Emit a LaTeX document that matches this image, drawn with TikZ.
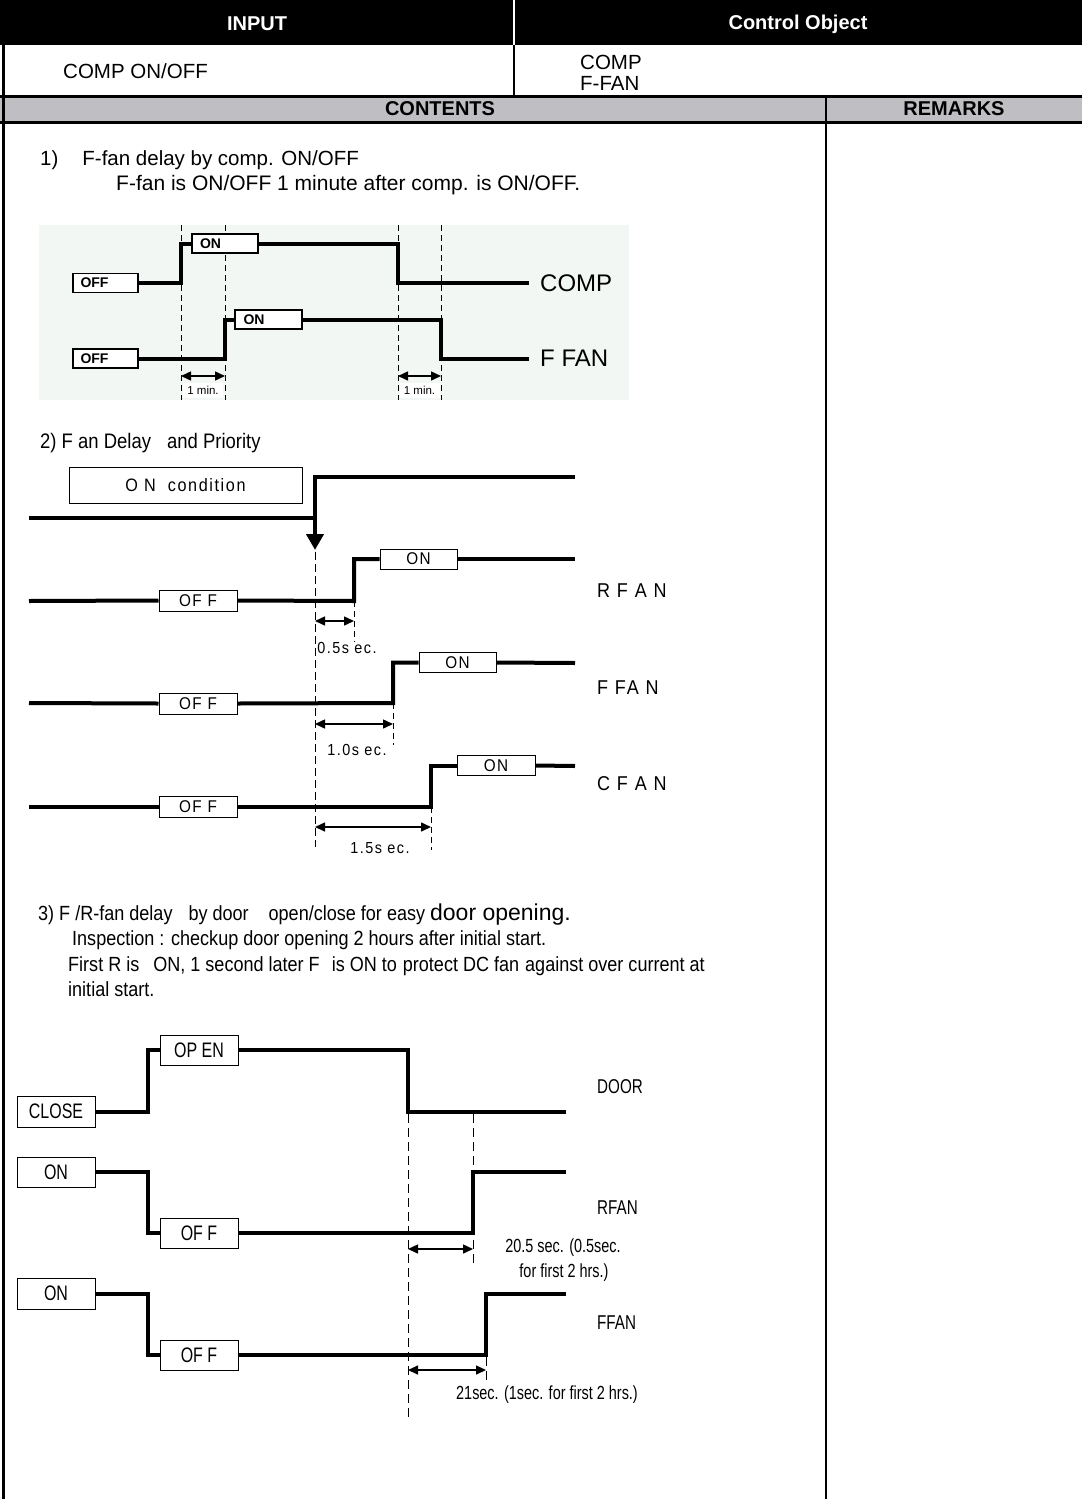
\documentclass[tikz,border=0pt]{standalone}
\usepackage{fontspec}
\setmainfont{Liberation Sans}
\newfontfamily\narrowfont{Liberation Sans}[FakeStretch=0.88]
\newfontfamily\tightfont{Liberation Sans}[FakeStretch=0.76]
\newfontfamily\spacedfont{Liberation Sans}[FakeStretch=0.9,LetterSpace=9]
\usetikzlibrary{arrows.meta,positioning}
\newcommand{\fsz}[1]{\fontsize{#1}{#1}\selectfont}
\definecolor{hdrgray}{RGB}{191,191,195}
\definecolor{panelbg}{RGB}{243,247,243}

\begin{document}
\begin{tikzpicture}[x=1pt,y=-1pt,>=Stealth,
  txt/.style={inner sep=0pt},
  wave/.style={line width=4pt},
  guide/.style={line width=0.9pt,dash pattern=on 6pt off 4pt},
  dim/.style={<->,line width=1.5pt,>={Triangle[length=10pt,width=9pt]}},
  oldbox/.style={draw,line width=1.2pt,fill=white,inner sep=0pt,minimum width=65pt,minimum height=19pt,font=\bfseries\fsz{14},text width=50pt,align=left},
  lvlbox/.style={draw,line width=1pt,fill=white,inner sep=0pt,minimum width=78pt,minimum height=21pt,font=\spacedfont\fsz{17}},
  doorbox/.style={draw,line width=1pt,fill=white,inner sep=0pt,minimum width=78pt,minimum height=30pt,font=\tightfont\fsz{21}}]
  \useasboundingbox (0,0) rectangle (1082,1499);

  % table frame
  \fill[black] (0,0) rectangle (1082,45);
  \fill[hdrgray] (0,96) rectangle (1082,122);
  \draw[white,line width=2pt] (514,0) -- (514,45);
  \draw[line width=2pt] (514,45) -- (514,96);
  \draw[line width=3pt] (0,96) -- (1082,96);
  \draw[line width=3pt] (0,122.5) -- (1082,122.5);
  \draw[line width=2.5pt] (826,96) -- (826,1499);
  \draw[line width=3pt] (3.5,45) -- (3.5,1499);

  \node (hin) [txt,white,font=\bfseries\fsz{20}] at (257,24) {INPUT};
  \node (hobj) [txt,white,font=\bfseries\fsz{20}] at (798,24) {Control Object};
  \node (inval) [txt,anchor=west,font=\fsz{20.5}] at (63,71) {COMP ON/OFF};
  \node (obj1) [txt,anchor=west,font=\fsz{20.5}] at (580,62) {COMP};
  \node (obj2) [txt,anchor=west,font=\fsz{20.5}] at (580,83) {F-FAN};
  \node (hcont) [txt,font=\bfseries\fsz{20}] at (440,109) {CONTENTS};
  \node (hrem) [txt,font=\bfseries\fsz{20}] at (954,109) {REMARKS};

  % 1) F-fan delay by comp
  \node (s1a) [txt,anchor=west,font=\fsz{20.5}] at (40,160) {1)\hspace{24pt}F-fan delay by comp. ON/OFF};
  \node (s1b) [txt,anchor=west,font=\fsz{21}] at (116,185) {F-fan is ON/OFF 1 minute after comp. is ON/OFF.};

  \fill[panelbg] (39,225) rectangle (629,400);
  \node (m1) [txt,fill=white,minimum width=40pt,minimum height=15pt,font=\fsz{11.5}] at (203,390) {1 min.};
  \node (m2) [txt,fill=white,minimum width=40pt,minimum height=15pt,font=\fsz{11.5}] at (419.5,390) {1 min.};
  \draw[guide] (181,225) -- (181,400);
  \draw[guide] (225,225) -- (225,400);
  \draw[guide] (398,225) -- (398,400);
  \draw[guide] (441,225) -- (441,400);
  \draw[dim] (181,376) -- (225,376);
  \draw[dim] (398,376) -- (441,376);

  \node (c1off) [oldbox] at (105.5,283) {OFF};
  \node (c1on) [oldbox,minimum width=66pt] at (225,243.5) {ON};
  \node (f1off) [oldbox] at (105.5,358.5) {OFF};
  \node (f1on) [oldbox,minimum width=67pt] at (268.5,319.5) {ON};
  \node (comp1) [anchor=west,inner sep=11pt,font=\fsz{24}] at (529,283) {COMP};
  \node (ffan1) [anchor=west,inner sep=11pt,font=\fsz{24}] at (529,358.5) {F FAN};

  \draw[wave] (c1off.east) -- (181,283) |- (c1on.west);
  \draw[wave] (c1on.east) -- (398,243.5) |- (comp1.west);
  \draw[wave] (f1off.east) -- (225,358.5) |- (f1on.west);
  \draw[wave] (f1on.east) -- (441,319.5) |- (ffan1.west);

  % 2) fan delay and priority
  \node (s2) [txt,anchor=west,font=\narrowfont\fsz{21}] at (40,443) {2) F an Delay\hspace{16pt}and Priority};
  \node (oncond) [draw,line width=1pt,inner sep=0pt,minimum width=233pt,minimum height=36pt,font=\spacedfont\fsz{18}] at (185.5,485) {O N\hspace{12pt}condition};

  \coordinate (t2a) at (29,518);
  \coordinate (t2b) at (575,477);
  \draw[wave] (t2a) -- (315,518);
  \draw[wave,-{Triangle[length=16pt,width=17pt]}] (t2b) -- (315,477) -- (315,550);
  \draw[guide,dash pattern=on 8pt off 4pt] (315,552) -- (315,847);

  \node (r2off) [lvlbox] at (198,600.5) {OF F};
  \node (r2on) [lvlbox,minimum width=77pt,minimum height=20pt] at (418.5,559) {ON};
  \node (r2lab) [txt,anchor=west,font=\spacedfont\fsz{20}] at (597,591) {R F A N};
  \coordinate (r2a) at (29,601);
  \coordinate (r2b) at (575,559);
  \draw[wave] (r2a) -- (r2off.west);
  \draw[wave] (r2off.east) -- (354,601) |- (r2on.west);
  \draw[wave] (r2on.east) -- (r2b);
  \draw[guide] (354,601) -- (354,642);
  \draw[dim] (315,621) -- (354,621);
  \node (r2t) [txt,font=\spacedfont\fsz{16}] at (347,648) {0.5s ec.};

  \node (f2off) [lvlbox] at (198,703.5) {OF F};
  \node (f2on) [lvlbox,minimum width=77pt,minimum height=20pt] at (457.5,662.5) {ON};
  \node (f2lab) [txt,anchor=west,font=\spacedfont\fsz{20}] at (597,688) {F FA N};
  \coordinate (f2a) at (29,703);
  \coordinate (f2b) at (575,663);
  \draw[wave] (f2a) -- (f2off.west);
  \draw[wave] (f2off.east) -- (393,703) |- (f2on.west);
  \draw[wave] (f2on.east) -- (f2b);
  \draw[guide] (393,703) -- (393,745);
  \draw[dim] (315,724) -- (393,724);
  \node (f2t) [txt,font=\spacedfont\fsz{16}] at (357,750) {1.0s ec.};

  \node (c2off) [lvlbox] at (198,807) {OF F};
  \node (c2on) [lvlbox,minimum width=78pt,minimum height=20pt] at (496,765.5) {ON};
  \node (c2lab) [txt,anchor=west,font=\spacedfont\fsz{20}] at (597,784) {C F A N};
  \coordinate (c2a) at (29,807);
  \coordinate (c2b) at (575,766);
  \draw[wave] (c2a) -- (c2off.west);
  \draw[wave] (c2off.east) -- (431,807) |- (c2on.west);
  \draw[wave] (c2on.east) -- (c2b);
  \draw[guide] (431,807) -- (431,850);
  \draw[dim] (315,827) -- (431,827);
  \node (c2t) [txt,font=\spacedfont\fsz{16}] at (380,848) {1.5s ec.};

  % 3) F/R-fan delay by door
  \node (s3a) [txt,anchor=west,font=\narrowfont\fsz{20.5}] at (38,915) {3) F /R-fan delay\hspace{16pt}by door\hspace{20pt}open/close for easy {\normalfont\fsz{23}door opening.}};
  \node (s3b) [txt,anchor=west,font=\narrowfont\fsz{20.5}] at (72,940) {Inspection : checkup door opening 2 hours after initial start.};
  \node (s3c) [txt,anchor=west,font=\narrowfont\fsz{20.5}] at (68,966) {First R is\hspace{14pt}ON, 1 second later F\hspace{12pt}is ON to\hspace{6pt}protect DC fan\hspace{6pt}against over current at};
  \node (s3d) [txt,anchor=west,font=\narrowfont\fsz{20.5}] at (68,989) {initial start.};

  \node (dclose) [doorbox,minimum height=31pt] at (56,1111.5) {CLOSE};
  \node (dopen) [doorbox] at (199,1050) {OP EN};
  \node (ron) [doorbox] at (56,1172) {ON};
  \node (roff) [doorbox] at (199,1233) {OF F};
  \node (fon) [doorbox,minimum height=31pt] at (56,1293.5) {ON};
  \node (foff) [doorbox] at (199,1355) {OF F};

  \node (doorlab) [txt,anchor=west,font=\tightfont\fsz{20}] at (597,1087) {DOOR};
  \node (rlab) [txt,anchor=west,font=\tightfont\fsz{20}] at (597,1208) {RFAN};
  \node (flab) [txt,anchor=west,font=\tightfont\fsz{20}] at (597,1323) {FFAN};

  \coordinate (dend) at (566,1111.5);
  \coordinate (rend) at (566,1172);
  \coordinate (fend) at (566,1293.5);
  \draw[wave] (dclose.east) -- (148,1111.5) |- (dopen.west);
  \draw[wave] (dopen.east) -- (408,1050) |- (dend);
  \draw[wave] (ron.east) -- (148,1172) |- (roff.west);
  \draw[wave] (roff.east) -- (473,1233) |- (rend);
  \draw[wave] (fon.east) -- (148,1293.5) |- (foff.west);
  \draw[wave] (foff.east) -- (486,1355) |- (fend);

  \draw[guide,dash pattern=on 9pt off 5pt] (408,1114) -- (408,1417);
  \draw[guide,dash pattern=on 9pt off 5pt] (473,1114) -- (473,1263);
  \draw[guide,dash pattern=on 9pt off 5pt] (486,1357) -- (486,1380);
  \draw[dim] (408,1249) -- (473,1249);
  \draw[dim] (408,1370) -- (486,1370);
  \node (rt1) [txt,font=\tightfont\fsz{19}] at (563,1248) {20.5 sec. (0.5sec.};
  \node (rt2) [txt,font=\tightfont\fsz{19}] at (564,1273) {for first 2 hrs.)};
  \node (ft1) [txt,font=\tightfont\fsz{19}] at (547,1395) {21sec. (1sec. for first 2 hrs.)};
\end{tikzpicture}
\end{document}
